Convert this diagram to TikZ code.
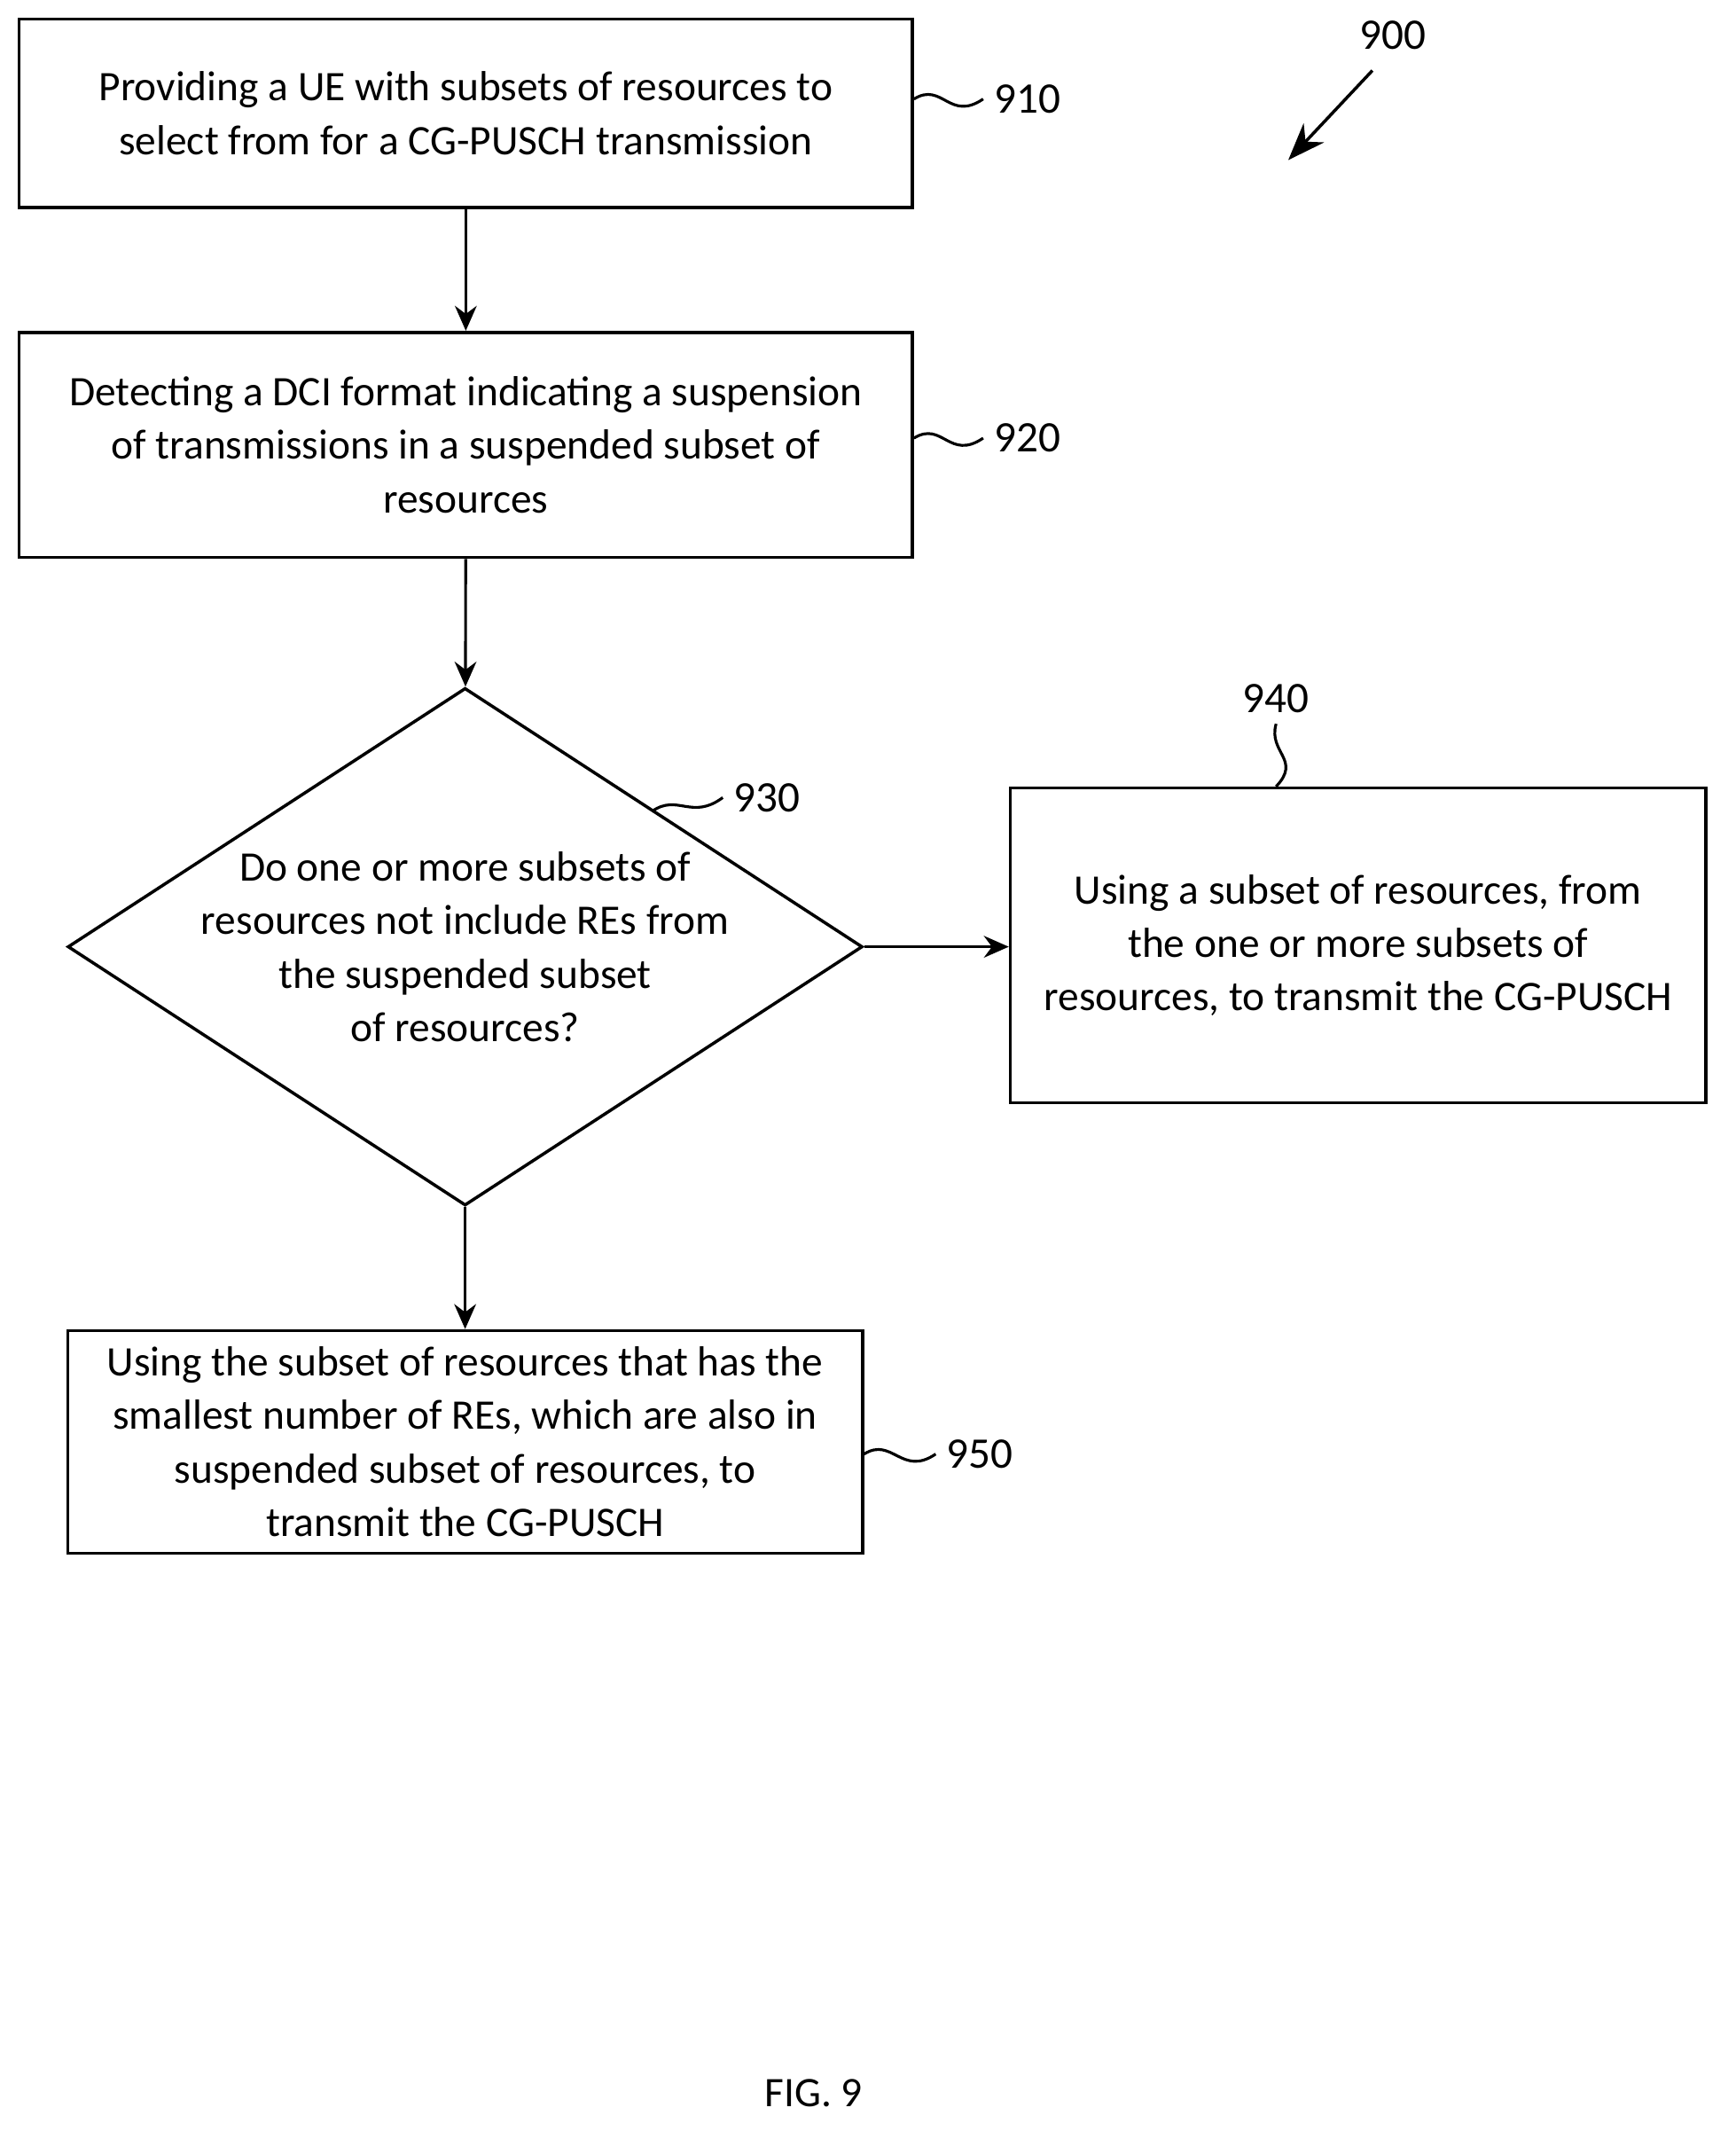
\documentclass[tikz,border=0pt]{standalone}
\usepackage{fontspec}
\setmainfont{Carlito}
\usetikzlibrary{arrows.meta,shapes.geometric}

\tikzset{
  flowbox/.style={draw, line width=1pt, align=center, inner sep=0pt},
  flow/.style={-{Stealth[length=8pt,width=7pt]}, line width=0.9pt},
  wave/.style={line width=0.9pt},
  refnum/.style={font=\fontsize{14}{17}\selectfont}
}

\begin{document}
\begin{tikzpicture}[x=0.0153cm, y=-0.0153cm, font=\fontsize{13.5}{17.2}\selectfont]
        \useasboundingbox (0,0) rectangle (1280,1577);
        \node[flowbox, minimum width=10.08cm, minimum height=2.13cm] (s910) at (343.5,83.5) {Providing a UE with subsets of resources to\\select from for a CG-PUSCH transmission};
        \node[flowbox, minimum width=10.08cm, minimum height=2.54cm] (s920) at (343.5,328) {Detecting a DCI format indicating a suspension\\of transmissions in a suspended subset of\\resources};
        \node[draw, diamond, line width=1pt, minimum width=8.97cm, minimum height=5.84cm, inner sep=0pt] (s930) at (343,698) {};
        \node[align=center] (t930) at (343,698) {Do one or more subsets of\\resources not include REs from\\the suspended subset\\of resources?};
        \node[flowbox, minimum width=7.85cm, minimum height=3.55cm] (s940) at (1001.5,697) {Using a subset of resources, from\\the one or more subsets of\\resources, to transmit the CG-PUSCH};
        \node[flowbox, minimum width=8.97cm, minimum height=2.51cm] (s950) at (343,1063) {Using the subset of resources that has the\\smallest number of REs, which are also in\\suspended subset of resources, to\\transmit the CG-PUSCH};
        \draw[flow] (s910) -- (s920);
        \draw[flow] (s920) -- (s930);
        \draw[flow] (s930.east) -- (s940.west |- s930.east);
        \draw[flow] (s930) -- (s950);
        % reference numerals
        \node[refnum, anchor=west] (n910) at (725,73) {910};
        \node[refnum, anchor=west] (n920) at (725,323) {920};
        \node[refnum, anchor=west] (n930) at (533,588) {930};
        \node[refnum] (n940) at (941,515) {940};
        \node[refnum, anchor=west] (n950) at (690,1072) {950};
        \node[refnum] (n900) at (1027,26) {900};
        \draw[wave] (s910.east |- n910) .. controls (695,60) and (700,90) .. (n910.west);
        \draw[wave] (s920.east |- n920) .. controls (695,310) and (700,340) .. (n920.west);
        \draw[wave] (481,598) .. controls (500,585) and (510,605) .. (n930.west);
        \draw[wave] (n940.south) .. controls (935,555) and (960,560) .. (s940.north -| n940);
        \draw[wave] (s950.east |- n950) .. controls (658,1059) and (665,1089) .. (n950.west);
        \coordinate (a900) at (950,118);
        \draw[-{Stealth[length=12pt,width=9pt]}, line width=1pt] (1012,52) -- (a900);
        \node (fig) at (600,1543) {FIG. 9};
\end{tikzpicture}
\end{document}
